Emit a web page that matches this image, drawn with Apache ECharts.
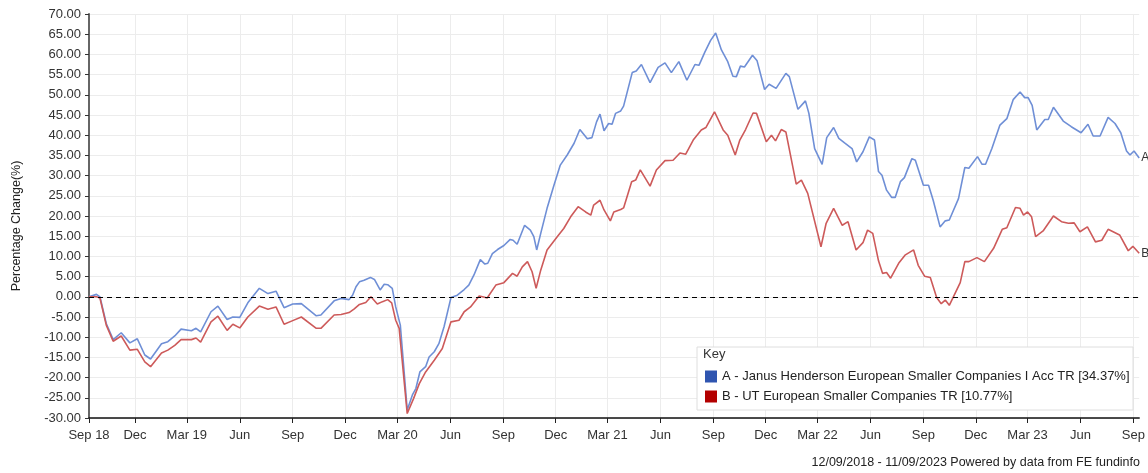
<!DOCTYPE html>
<html>
<head>
<meta charset="utf-8">
<script src="https://cdn.jsdelivr.net/npm/echarts@6/dist/echarts.min.js"></script>
<style>
  html, body { margin: 0; padding: 0; background: #fff; }
  #chart { width: 1148px; height: 473px; }
</style>
</head>
<body>
<div id="chart"></div>
<script>
// x values are days since 12/09/2018 (start of the period)
var tickDays = [0, 80, 170, 262, 354, 445, 536, 628, 720, 811, 901, 993, 1085, 1176, 1266, 1358, 1450, 1541, 1631, 1723, 1815];
var tickLabels = ['Sep 18', 'Dec', 'Mar 19', 'Jun', 'Sep', 'Dec', 'Mar 20', 'Jun', 'Sep', 'Dec', 'Mar 21', 'Jun', 'Sep', 'Dec', 'Mar 22', 'Jun', 'Sep', 'Dec', 'Mar 23', 'Jun', 'Sep'];

var nameA = 'A - Janus Henderson European Smaller Companies I Acc TR [34.37%]';
var nameB = 'B - UT European Smaller Companies TR [10.77%]';

// A - Janus Henderson
var aDays = [
  0, 13, 19, 30, 42, 56, 71, 84, 97, 107,
  126, 137, 149, 160, 178, 186, 194, 212, 224, 240,
  250, 262, 276, 296, 311, 325, 339, 354, 369, 395,
  403, 426, 438, 452, 458, 464, 470, 478, 489, 496,
  506, 513, 519, 527, 533, 541, 553, 562, 568, 575,
  585, 591, 600, 608, 617, 629, 640, 652, 660, 669,
  680, 688, 693, 701, 710, 721, 732, 737, 744, 757,
  767, 773, 778, 785, 796, 808, 819, 831, 843, 853,
  866, 874, 882, 888, 895, 903, 909, 915, 924, 929,
  944, 951, 960, 975, 989, 1001, 1012, 1025, 1039, 1053,
  1060, 1070, 1080, 1089, 1099, 1110, 1119, 1125, 1132, 1139,
  1153, 1161, 1174, 1182, 1194, 1211, 1217, 1232, 1245, 1251,
  1261, 1274, 1282, 1294, 1303, 1313, 1326, 1334, 1345, 1356,
  1365, 1372, 1378, 1386, 1395, 1401, 1410, 1417, 1430, 1436,
  1450, 1459, 1467, 1479, 1488, 1495, 1511, 1522, 1529, 1544,
  1552, 1558, 1569, 1583, 1595, 1606, 1618, 1626, 1632, 1639,
  1647, 1661, 1667, 1676, 1693, 1707, 1724, 1736, 1745, 1757,
  1771, 1783, 1793, 1803, 1809, 1816, 1825
];
var aVals = [
  0, 0.6, 0, -6.6, -10.6, -8.9, -11.4, -10.4, -14.4, -15.4,
  -11.6, -11.1, -9.7, -8.0, -8.4, -7.8, -8.7, -3.7, -2.3, -5.6,
  -5.0, -5.1, -1.5, 2.1, 0.8, 1.4, -2.7, -1.8, -1.7, -4.7,
  -4.5, -1.0, -0.4, -0.7, 0.4, 2.5, 3.7, 4.1, 4.8, 4.3,
  1.7, 3.1, 3.0, 2.1, -2.5, -7.0, -28.0, -24.3, -22.7, -18.6,
  -17.3, -14.9, -13.6, -11.6, -7.4, -0.2, 0.4, 1.8, 2.9, 5.4,
  9.2, 8.1, 8.3, 10.7, 11.7, 12.7, 14.2, 14.0, 13.0, 17.7,
  16.5, 14.9, 11.6, 15.7, 21.9, 27.6, 32.6, 35.1, 38.0, 41.4,
  39.1, 39.4, 43.3, 45.2, 41.1, 42.9, 42.7, 45.4, 46.0, 47.2,
  55.5, 55.9, 57.5, 53.0, 56.8, 57.9, 55.5, 58.2, 53.6, 57.5,
  57.3, 60.5, 63.4, 65.3, 61.1, 58.2, 54.6, 54.5, 57.1, 56.9,
  59.8, 58.4, 51.3, 52.6, 51.6, 55.3, 54.5, 46.4, 48.5, 45.4,
  36.7, 32.8, 39.4, 41.9, 39.2, 38.1, 36.7, 33.4, 35.9, 39.6,
  38.8, 31.0, 30.1, 26.4, 24.6, 24.6, 28.5, 29.5, 34.2, 33.8,
  27.6, 27.6, 23.9, 17.3, 18.8, 19.0, 24.3, 32.0, 31.8, 34.7,
  32.8, 32.8, 36.7, 42.5, 44.1, 48.8, 50.7, 49.3, 49.3, 47.4,
  41.3, 43.9, 43.9, 46.9, 43.5, 42.1, 40.6, 42.7, 39.8, 39.8,
  44.4, 42.9, 40.6, 36.1, 35.1, 36.1, 34.37
];

// B - UT European Smaller Companies sector
var bDays = [
  0, 13, 19, 30, 42, 56, 71, 84, 97, 107,
  126, 137, 149, 160, 178, 186, 194, 212, 224, 240,
  250, 262, 276, 296, 311, 325, 339, 354, 369, 395,
  403, 426, 438, 452, 461, 470, 481, 490, 501, 510,
  519, 526, 533, 539, 553, 564, 574, 585, 600, 614,
  629, 643, 652, 663, 678, 684, 692, 707, 721, 736,
  744, 753, 762, 770, 777, 785, 796, 814, 825, 837,
  850, 863, 872, 877, 888, 895, 906, 912, 924, 929,
  943, 950, 958, 975, 986, 1001, 1015, 1027, 1037, 1050,
  1064, 1072, 1087, 1102, 1110, 1123, 1131, 1141, 1154, 1160,
  1177, 1186, 1193, 1203, 1211, 1229, 1238, 1249, 1272, 1281,
  1294, 1309, 1319, 1333, 1345, 1353, 1362, 1372, 1379, 1386,
  1393, 1407, 1418, 1433, 1441, 1452, 1462, 1473, 1481, 1488,
  1495, 1514, 1522, 1529, 1543, 1556, 1572, 1587, 1595, 1610,
  1618, 1624, 1631, 1638, 1645, 1658, 1676, 1690, 1702, 1712,
  1722, 1735, 1749, 1760, 1771, 1791, 1806, 1814, 1825
];
var bVals = [
  0, 0, -0.3, -7.0, -11.0, -9.7, -13.2, -13.0, -16.1, -17.3,
  -13.9, -13.2, -12.0, -10.6, -10.6, -10.2, -11.2, -6.2, -4.8, -8.3,
  -6.8, -7.7, -5.0, -2.3, -3.1, -2.5, -6.8, -5.9, -5.0, -7.8,
  -7.8, -4.5, -4.4, -3.9, -3.0, -1.9, -1.4, 0.0, -1.8, -1.2,
  -0.7, -1.5, -5.8, -7.8, -28.9, -25.2, -21.5, -18.6, -15.7, -12.8,
  -6.2, -5.8, -3.7, -2.5, 0.2, 0.0, -0.3, 2.9, 3.5, 5.8,
  5.1, 7.4, 8.7, 6.2, 2.1, 6.6, 11.6, 14.9, 16.9, 19.8,
  22.3, 21.0, 20.2, 22.7, 23.9, 21.5, 18.8, 21.0, 21.6, 22.0,
  28.5, 28.9, 31.4, 27.4, 31.4, 33.7, 33.8, 35.6, 35.3, 38.8,
  41.3, 41.9, 45.8, 41.3, 40.0, 35.1, 38.8, 41.4, 45.5, 45.4,
  38.4, 40.0, 38.6, 41.4, 40.8, 27.9, 28.9, 25.6, 12.4, 18.2,
  21.9, 17.7, 18.6, 11.6, 13.4, 16.5, 15.7, 8.9, 5.8, 6.0,
  4.6, 8.3, 10.3, 11.6, 7.8, 5.1, 4.8, -0.2, -1.7, -0.8,
  -2.1, 3.5, 8.7, 8.7, 9.7, 8.7, 12.0, 16.7, 17.1, 22.1,
  21.9, 20.2, 21.0, 19.8, 14.9, 16.3, 20.0, 18.6, 18.2, 18.3,
  16.1, 17.3, 13.6, 14.0, 16.7, 15.3, 11.4, 12.5, 10.77
];

function pairs(xs, ys) {
  return xs.map(function (x, i) { return [x, ys[i]]; });
}

var chart = echarts.init(document.getElementById('chart'));
var font = 'Liberation Sans, Arial, sans-serif';

var option = {
  animation: false,
  textStyle: { fontFamily: font },
  grid: { left: 89, right: 8, top: 14, bottom: 55 },
  xAxis: {
    type: 'value',
    min: 0,
    max: 1825,
    axisLine: { show: true, onZero: false, lineStyle: { color: '#111', width: 1.5 } },
    axisTick: { show: true, customValues: tickDays, length: 5, lineStyle: { color: '#222' } },
    axisLabel: {
      customValues: tickDays,
      margin: 11,
      fontSize: 13,
      color: '#333',
      fontFamily: font,
      formatter: function (v) {
        var i = tickDays.indexOf(v);
        return i >= 0 ? tickLabels[i] : '';
      }
    },
    splitLine: { show: true, lineStyle: { color: '#ececec', width: 1 } }
  },
  yAxis: {
    type: 'value',
    min: -30,
    max: 70,
    interval: 5,
    axisLine: { show: true, onZero: false, lineStyle: { color: '#666', width: 2 } },
    axisTick: { show: true, length: 4, lineStyle: { color: '#333' } },
    axisLabel: {
      fontSize: 13,
      color: '#333',
      margin: 8,
      fontFamily: font,
      formatter: function (v) { return v.toFixed(2); }
    },
    splitLine: { show: true, lineStyle: { color: '#ececec', width: 1 } }
  },
  legend: {
    orient: 'vertical',
    left: 700,
    top: 365,
    itemWidth: 12,
    itemHeight: 12,
    itemGap: 7,
    icon: 'rect',
    z: 11,
    textStyle: { fontSize: 13, color: '#222', fontFamily: font },
    data: [
      { name: nameA, itemStyle: { color: '#2f55b0' } },
      { name: nameB, itemStyle: { color: '#b30000' } }
    ]
  },
  graphic: [
    {
      type: 'rect', z: 10, silent: true,
      shape: { x: 697, y: 347, width: 436, height: 63 },
      style: { fill: '#fff', stroke: '#dedede', lineWidth: 1 }
    },
    {
      type: 'text', z: 11, silent: true, left: 703, top: 348,
      style: { text: 'Key', fill: '#333', font: '13px ' + font }
    },
    {
      type: 'text', silent: true, x: 17, y: 226, rotation: Math.PI / 2,
      style: { text: 'Percentage Change(%)', fill: '#222', font: '12.5px ' + font, align: 'center', verticalAlign: 'middle' }
    },
    {
      type: 'text', right: 8, top: 456, silent: true,
      style: { text: '12/09/2018 - 11/09/2023 Powered by data from FE fundinfo', fill: '#222', font: '12.5px ' + font }
    }
  ],
  series: [
    {
      name: nameA,
      type: 'line',
      data: pairs(aDays, aVals),
      showSymbol: false,
      lineStyle: { color: '#6f8fd6', width: 1.6 },
      itemStyle: { color: '#6f8fd6' },
      endLabel: { show: true, formatter: 'A', color: '#333', fontSize: 12, distance: 2, fontFamily: font },
      markLine: {
        silent: true,
        symbol: 'none',
        label: { show: false },
        lineStyle: { color: '#000', type: [5, 4], width: 1 },
        data: [{ yAxis: 0 }]
      }
    },
    {
      name: nameB,
      type: 'line',
      data: pairs(bDays, bVals),
      showSymbol: false,
      lineStyle: { color: '#cd5a5a', width: 1.6 },
      itemStyle: { color: '#cd5a5a' },
      endLabel: { show: true, formatter: 'B', color: '#333', fontSize: 12, distance: 2, fontFamily: font }
    }
  ]
};

chart.setOption(option);
</script>
</body>
</html>
